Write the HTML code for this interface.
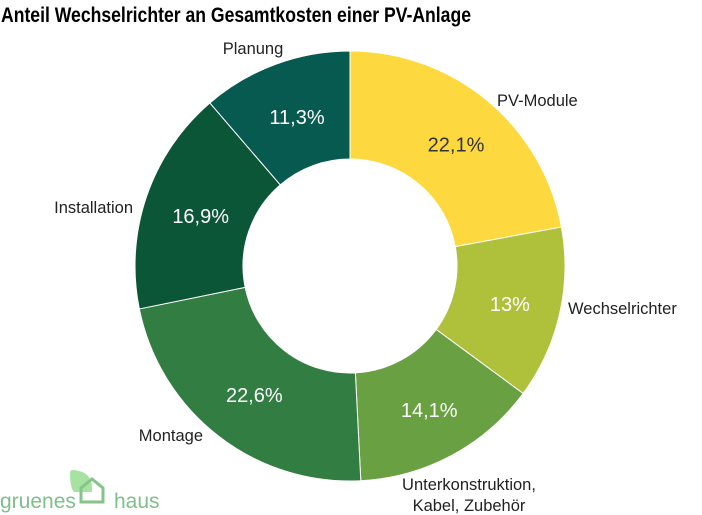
<!DOCTYPE html>
<html><head><meta charset="utf-8"><style>
html,body{margin:0;padding:0;background:#fff;width:702px;height:515px;overflow:hidden}
svg{display:block;font-family:"Liberation Sans",sans-serif}
</style></head><body>
<svg id="chart" width="702" height="515" viewBox="0 0 702 515">
<text x="1" y="22" font-size="21" font-weight="bold" fill="#000" textLength="470" lengthAdjust="spacingAndGlyphs">Anteil Wechselrichter an Gesamtkosten einer PV-Anlage</text>
<g id="slices"></g>
<g id="labels"></g>
<g>
<path d="M70 472 Q70 470 74 470 Q92 472 92 488 L92 492 L74 492 Q70 488 70 472 Z" fill="#a6e3a0"/>
<path d="M81 502 L81 488 L92 479 L103 488 L103 502 Z" fill="none" stroke="#85c58a" stroke-width="3"/>
<text x="0" y="508" font-size="21" fill="#7fbf8a">gruenes</text>
<text x="114" y="508" font-size="21" fill="#7fbf8a">haus</text>
</g>
</svg>
<script>
const categories = ["PV-Module","Wechselrichter","Unterkonstruktion, Kabel, Zubehör","Montage","Installation","Planung"];
const values = [22.1,13,14.1,22.6,16.9,11.3];
const valueLabels = ["22,1%","13%","14,1%","22,6%","16,9%","11,3%"];
const colors = ["#fdd93f","#afc13b","#68a042","#327d42","#0b5636","#075a50"];
const catLayout = [[497,106,"start"],[568,314,"start"],[469,490,"middle"],[203,441,"end"],[133,213,"end"],[253,54,"middle"]];
const cx=350, cy=266, R=215, r=107;
const NS="http://www.w3.org/2000/svg";
const total = values.reduce((a,b)=>a+b,0);
const slices=document.getElementById('slices'), labels=document.getElementById('labels');
function pt(a,rad){return [cx+rad*Math.sin(a), cy-rad*Math.cos(a)];}
let acc=0;
values.forEach((v,i)=>{
  const a0=acc/total*2*Math.PI; acc+=v; const a1=acc/total*2*Math.PI;
  const large=(a1-a0)>Math.PI?1:0;
  const [x0,y0]=pt(a0,R),[x1,y1]=pt(a1,R),[x2,y2]=pt(a1,r),[x3,y3]=pt(a0,r);
  const p=document.createElementNS(NS,'path');
  p.setAttribute('d',`M${x0} ${y0} A${R} ${R} 0 ${large} 1 ${x1} ${y1} L${x2} ${y2} A${r} ${r} 0 ${large} 0 ${x3} ${y3} Z`);
  p.setAttribute('fill',colors[i]); p.setAttribute('stroke','#fff'); p.setAttribute('stroke-width','1');
  
  
  slices.appendChild(p);
  const am=(a0+a1)/2;
  const [lx,ly]=pt(am,(R+r)/2);
  const t=document.createElementNS(NS,'text');
  t.setAttribute('x',lx+3); t.setAttribute('y',ly+9); t.setAttribute('text-anchor','middle');
  t.setAttribute('font-size','20'); t.setAttribute('fill', i===0?'#333':'#fff');
  t.textContent=valueLabels[i];
  
  
  labels.appendChild(t);
  const [ox,oy,anchor]=catLayout[i];
  const parts=categories[i].includes(', Kabel')?["Unterkonstruktion,","Kabel, Zubehör"]:[categories[i]];
  parts.forEach((pp,k)=>{
    const c=document.createElementNS(NS,'text');
    c.setAttribute('x',ox); c.setAttribute('y',oy+k*21);
    c.setAttribute('text-anchor',anchor); c.setAttribute('font-size','16.5'); c.setAttribute('fill','#222');
    c.textContent=pp;
    
    
    labels.appendChild(c);
  });
});
</script>
</body></html>
